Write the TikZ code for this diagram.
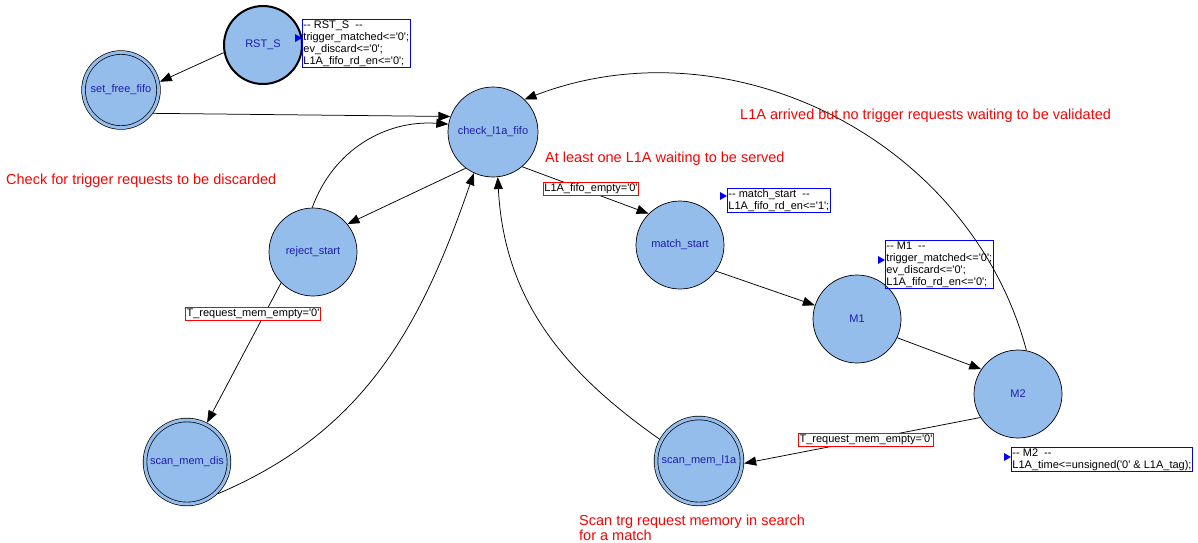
\documentclass[tikz,border=0pt]{standalone}
\usepackage{fontspec}
\setmainfont{Liberation Sans}
\usetikzlibrary{arrows.meta}

\definecolor{stfill}{RGB}{148,189,235}
\definecolor{sttext}{RGB}{30,30,170}
\definecolor{actblue}{RGB}{0,0,255}
\definecolor{notered}{RGB}{255,0,0}

\newcommand{\qz}{\textquotesingle 0\textquotesingle}
\newcommand{\qo}{\textquotesingle 1\textquotesingle}

\begin{document}
\begin{tikzpicture}[
  x=1pt, y=1pt,
  st/.style={circle, draw, fill=stfill, line width=0.7pt, minimum size=88pt, inner sep=0pt, text=sttext, font=\fontsize{11}{12}\selectfont},
  finalst/.style={st, double=stfill, double distance=3pt, outer sep=2.2pt, minimum size=84pt},
  resetst/.style={st, line width=2pt, minimum size=78pt},
  trans/.style={draw, line width=0.75pt, -{Triangle[length=12pt,width=9pt]}},
  cond/.style={rectangle, draw=notered, fill=white, line width=1pt, inner sep=1.2pt, text=black, font=\fontsize{11}{12}\selectfont},
  act/.style={draw=actblue, line width=0.9pt, inner sep=1pt, align=left, anchor=north west, font=\fontsize{11}{12}\selectfont},
  comment/.style={text=notered, anchor=west, inner sep=0pt, font=\fontsize{14.5}{15}\selectfont}
]
  \useasboundingbox (0,0) rectangle (1198,-542);

  \node[resetst] (rst) at (263,-45) {RST\_S};
  \node[finalst, minimum size=75pt] (sff) at (121,-90) {set\_free\_fifo};
  \node[st, minimum size=90pt] (check) at (493,-132) {check\_l1a\_fifo};
  \node[st] (rs) at (313,-252) {reject\_start};
  \node[st] (ms) at (680,-245) {match\_start};
  \node[st] (m1) at (857,-319) {M1};
  \node[st] (m2) at (1018,-394) {M2};
  \node[finalst] (smd) at (187,-462) {scan\_mem\_dis};
  \node[finalst, minimum size=86pt] (sml) at (699,-461) {scan\_mem\_l1a};

  % state actions
  \node[act] (rstact) at (302,-19) {-{}- RST\_S~~-{}-\\trigger\_matched<=\qz;\\ev\_discard<=\qz;\\L1A\_fifo\_rd\_en<=\qz;};
  \node[act] (msact) at (727,-188) {-{}- match\_start~~-{}-\\L1A\_fifo\_rd\_en<=\qo;};
  \node[act] (m1act) at (885,-240) {-{}- M1~~-{}-\\trigger\_matched<=\qz;\\ev\_discard<=\qz;\\L1A\_fifo\_rd\_en<=\qz;};
  \node[act] (m2act) at (1011,-447) {-{}- M2~~-{}-\\L1A\_time<=unsigned(\qz{} \& L1A\_tag);};
  \fill[actblue] ([yshift=-19pt]rstact.north west) -- ++(-7,4) -- ++(0,-8) -- cycle;
  \fill[actblue] ([yshift=-8pt]msact.north west) -- ++(-7,4) -- ++(0,-8) -- cycle;
  \fill[actblue] ([yshift=-20pt]m1act.north west) -- ++(-7,4) -- ++(0,-8) -- cycle;
  \fill[actblue] ([yshift=-10pt]m2act.north west) -- ++(-7,4) -- ++(0,-8) -- cycle;

  \draw[trans] (rst.191) -- (sff.12);
  \draw[trans] (sff.-36) -- (check.160);
  \draw[trans] (check.233) -- (rs.39);
  \draw[trans] (rs.91) to[out=70,in=176] (check.170);
  \draw[trans] (rs.224) -- (smd.63);
  \draw[trans] (smd.-46) to[out=23,in=251] (check.245);
  \draw[trans] (check.-50) -- (ms.135);
  \draw[trans] (ms.-36) -- (m1.162);
  \draw[trans] (m1.-25) -- (m2.146);
  \draw[trans] (m2.212) -- (sml.-3);
  \draw[trans] (sml.151) to[out=145,in=-87] (check.-84);
  \draw[trans] (m2.79) to[out=105,in=21] (check.46);

  % guards
  \node[cond] (g1) at (253,-314) {T\_request\_mem\_empty=\qz};
  \node[cond] (g2) at (591,-189) {L1A\_fifo\_empty=\qz};
  \node[cond] (g3) at (866,-440) {T\_request\_mem\_empty=\qz};

  \node[comment] (discnote) at (6,-181) {Check for trigger requests to be discarded};
  \node[comment] (servenote) at (545,-159) {At least one L1A waiting to be served};
  \node[comment] (arrnote) at (740,-116) {L1A arrived but no trigger requests waiting to be validated};
  \node[comment, align=left, anchor=north west] (scannote) at (579,-515) {Scan trg request memory in search\\for a match};
\end{tikzpicture}
\end{document}
